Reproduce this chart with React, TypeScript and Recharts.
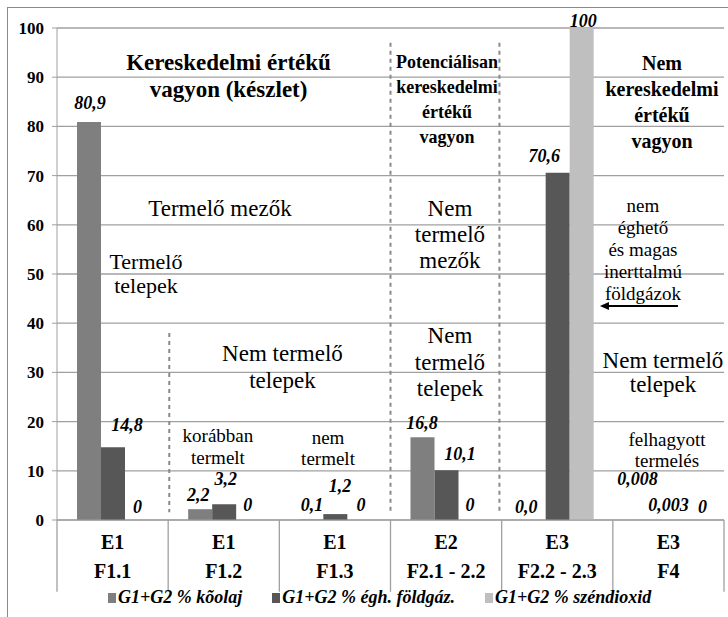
import React from 'react';
import {
  BarChart,
  Bar,
  XAxis,
  YAxis,
  CartesianGrid,
  ReferenceLine,
  ReferenceDot,
  Legend,
} from 'recharts';

// ---------- data ----------
const classCodes = ['E1', 'E1', 'E1', 'E2', 'E3', 'E3'];
const subCodes = ['F1.1', 'F1.2', 'F1.3', 'F2.1 - 2.2', 'F2.2 - 2.3', 'F4'];
const oilValues = [80.9, 2.2, 0.1, 16.8, 0.0, 0.008];
const gasValues = [14.8, 3.2, 1.2, 10.1, 70.6, 0.003];
const co2Values = [0, 0, 0, 0, 100, 0];
const oilLabels = ['80,9', '2,2', '0,1', '16,8', '0,0', '0,008'];
const gasLabels = ['14,8', '3,2', '1,2', '10,1', '70,6', '0,003'];
const co2Labels = ['0', '0', '0', '0', '100', '0'];
const yTicks = [0, 10, 20, 30, 40, 50, 60, 70, 80, 90, 100];
const seriesNames = ['G1+G2 % kõolaj', 'G1+G2 % égh. földgáz.', 'G1+G2 % széndioxid'];

// ---------- styling ----------
const FONT = '"Liberation Serif", "Times New Roman", serif';
const COLORS = ['#7f7f7f', '#575757', '#bfbfbf'];
const GRID = '#a0a0a0';
const BAR = 24;

// label offsets (dx, dy) relative to the top-centre of each bar
const oilOffsets = [[1.5, -19], [-1.5, -14], [1, -14.5], [0, -14], [-7, -13], [-7, -41]];
const gasOffsets = [[14.5, -22], [2, -25], [5, -28], [14, -16], [-13, -17], [0, -15]];
const co2Offsets = [[1, -13], [0, -15], [2, -15], [0, -15], [2, -7], [10, -13]];

type Note = { x: number; y: number; lines: string[]; size: number; bold?: boolean; lh: number };
// annotation anchors in data units (x: category position 0..6, y: value axis)
const notes: Note[] = [
  { x: 1.543, y: 93.1, lines: ['Kereskedelmi értékű', 'vagyon (készlet)'], size: 23, bold: true, lh: 27 },
  { x: 1.466, y: 63.4, lines: ['Termelő mezők'], size: 23, lh: 26 },
  { x: 0.8, y: 52.6, lines: ['Termelő', 'telepek'], size: 22, lh: 24 },
  { x: 2.028, y: 33.9, lines: ['Nem termelő', 'telepek'], size: 23, lh: 27 },
  { x: 1.448, y: 17.3, lines: ['korábban', 'termelt'], size: 19, lh: 22 },
  { x: 2.438, y: 16.9, lines: ['nem', 'termelt'], size: 19, lh: 21 },
  { x: 3.508, y: 93.1, lines: ['Potenciálisan', 'kereskedelmi', 'értékű', 'vagyon'], size: 18, bold: true, lh: 25 },
  { x: 3.535, y: 63.4, lines: ['Nem', 'termelő', 'mezők'], size: 23, lh: 26 },
  { x: 3.535, y: 37.6, lines: ['Nem', 'termelő', 'telepek'], size: 23, lh: 26.5 },
  { x: 5.442, y: 92.9, lines: ['Nem', 'kereskedelmi', 'értékű', 'vagyon'], size: 20, bold: true, lh: 26 },
  { x: 5.271, y: 64.0, lines: ['nem', 'éghető', 'és magas', 'inerttalmú', 'földgázok'], size: 19, lh: 22 },
  { x: 5.451, y: 32.5, lines: ['Nem termelő', 'telepek'], size: 23, lh: 24 },
  { x: 5.487, y: 16.5, lines: ['felhagyott', 'termelés'], size: 19, lh: 21 },
];

const data = classCodes.map((c, i) => ({
  cat: `${c} ${subCodes[i]}`,
  pos: i + 0.5,
  oil: oilValues[i],
  gas: gasValues[i],
  co2: co2Values[i],
}));

const valueSeries = [
  { values: oilValues, labels: oilLabels, offs: oilOffsets, shift: -BAR },
  { values: gasValues, labels: gasLabels, offs: gasOffsets, shift: 0 },
  { values: co2Values, labels: co2Labels, offs: co2Offsets, shift: BAR },
];

const CategoryTick = (props: any) => {
  const { x, y, payload } = props;
  const i = payload.index;
  return (
    <text
      x={x}
      y={y}
      textAnchor="middle"
      dominantBaseline="central"
      fontFamily={FONT}
      fontSize={20}
      fontWeight="bold"
      fill="#000"
    >
      <tspan x={x} dy={22}>{classCodes[i]}</tspan>
      <tspan x={x} dy={29}>{subCodes[i]}</tspan>
    </text>
  );
};

const LegendContent = () => (
  <div style={{ display: 'flex', alignItems: 'center', fontFamily: FONT, fontSize: 18, fontWeight: 'bold', fontStyle: 'italic', color: '#000', whiteSpace: 'nowrap' }}>
    {seriesNames.map((n, i) => (
      <div key={i} style={{ display: 'flex', alignItems: 'center', marginRight: 30 }}>
        <span style={{ display: 'inline-block', width: 8, height: 10, background: COLORS[i], marginRight: 2 }} />
        <span>{n}</span>
      </div>
    ))}
  </div>
);

const arrowShape = (p: any) => {
  const { x1, y1, x2, y2 } = p;
  return (
    <g>
      <line x1={x1} y1={y1} x2={x2 + 6} y2={y2} stroke="#000" strokeWidth={2} />
      <polygon points={`${x2},${y2} ${x2 + 9},${y2 - 4} ${x2 + 9},${y2 + 4}`} fill="#000" />
    </g>
  );
};

export default function App() {
  return (
    <div style={{ position: 'absolute', left: 0, top: 0, width: 728, height: 617, background: '#fff', overflow: 'hidden' }}>
      <div style={{ position: 'absolute', left: 7, top: 7, width: 740, height: 640, borderTop: '1px solid #8a8a8a', borderLeft: '1px solid #8a8a8a' }} />
      <BarChart
        width={728}
        height={617}
        data={data}
        margin={{ top: 28, right: 4, bottom: 27, left: 0 }}
        barGap={0}
        barSize={BAR}
      >
        <CartesianGrid vertical={false} stroke={GRID} strokeWidth={1.3} />
        <XAxis
          dataKey="cat"
          height={70}
          interval={0}
          tickLine={false}
          tickSize={0}
          tickMargin={0}
          axisLine={{ stroke: GRID }}
          tick={<CategoryTick />}
        />
        <XAxis xAxisId="num" dataKey="pos" type="number" domain={[0, 6]} allowDataOverflow hide />
        <YAxis
          width={57}
          domain={[0, 100]}
          ticks={yTicks}
          interval={0}
          tickSize={5}
          tickMargin={8}
          axisLine={{ stroke: GRID }}
          tickLine={{ stroke: GRID }}
          tick={{ fontFamily: FONT, fontSize: 17, fontWeight: 'bold', fill: '#000' }}
        />
        <Legend
          verticalAlign="middle"
          align="center"
          layout="horizontal"
          wrapperStyle={{ top: 587, left: 108, width: 620, height: 22 }}
          content={<LegendContent />}
        />
        <Bar dataKey="oil" name={seriesNames[0]} fill={COLORS[0]} isAnimationActive={false} />
        <Bar dataKey="gas" name={seriesNames[1]} fill={COLORS[1]} isAnimationActive={false} />
        <Bar dataKey="co2" name={seriesNames[2]} fill={COLORS[2]} isAnimationActive={false} />

        {[0, 1, 2, 3, 4, 5, 6].map((k) => (
          <ReferenceLine
            key={`b${k}`}
            xAxisId="num"
            ifOverflow="visible"
            segment={[{ x: k, y: 0 }, { x: k, y: -14.6 }]}
            stroke={GRID}
            strokeWidth={1.3}
          />
        ))}
        <ReferenceLine xAxisId="num" ifOverflow="visible" segment={[{ x: 1.01, y: 38 }, { x: 1.01, y: 1.6 }]} stroke="#8a8a8a" strokeWidth={2} strokeDasharray="4 4" />
        <ReferenceLine xAxisId="num" ifOverflow="visible" segment={[{ x: 3, y: 97 }, { x: 3, y: 1.6 }]} stroke="#8a8a8a" strokeWidth={2} strokeDasharray="4 4" />
        <ReferenceLine xAxisId="num" ifOverflow="visible" segment={[{ x: 3.98, y: 97 }, { x: 3.98, y: 1.6 }]} stroke="#8a8a8a" strokeWidth={2} strokeDasharray="4 4" />
        <ReferenceLine xAxisId="num" ifOverflow="visible" segment={[{ x: 5.586, y: 43.5 }, { x: 4.884, y: 43.5 }]} shape={arrowShape} />

        {valueSeries.map((s, si) =>
          s.values.map((v, i) => (
            <ReferenceDot
              key={`v${si}-${i}`}
              x={data[i].cat}
              y={v}
              r={1}
              ifOverflow="visible"
              shape={(p: any) => (
                <text
                  x={p.cx + s.shift + s.offs[i][0]}
                  y={p.cy + s.offs[i][1]}
                  textAnchor="middle"
                  dominantBaseline="central"
                  fontFamily={FONT}
                  fontSize={18}
                  fontWeight="bold"
                  fontStyle="italic"
                  fill="#000"
                >
                  {s.labels[i]}
                </text>
              )}
            />
          ))
        )}

        {notes.map((n, idx) => (
          <ReferenceDot
            key={`n${idx}`}
            xAxisId="num"
            x={n.x}
            y={n.y}
            r={1}
            ifOverflow="visible"
            shape={(p: any) => (
              <text
                x={p.cx}
                y={p.cy}
                textAnchor="middle"
                dominantBaseline="central"
                fontFamily={FONT}
                fontSize={n.size}
                fontWeight={n.bold ? 'bold' : 'normal'}
                fill="#000"
              >
                {n.lines.map((l, i) => (
                  <tspan key={i} x={p.cx} dy={i === 0 ? 0 : n.lh}>
                    {l}
                  </tspan>
                ))}
              </text>
            )}
          />
        ))}
      </BarChart>
    </div>
  );
}
